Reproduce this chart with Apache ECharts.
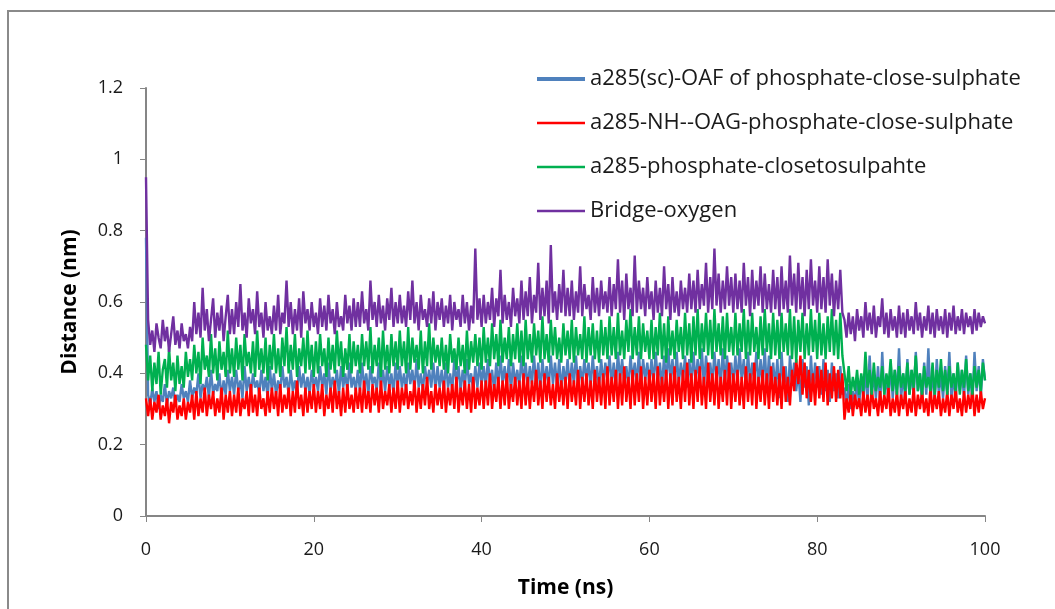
<!DOCTYPE html>
<html>
<head>
<meta charset="utf-8">
<script src="https://cdn.jsdelivr.net/npm/echarts@6/dist/echarts.min.js"></script>
<style>
html,body{margin:0;padding:0;background:#fff;}
#chart{width:1055px;height:609px;}
</style>
</head>
<body>
<div id="chart"></div>
<script>
// Sampling step of the series (ns); one value per step from 0 to 100 ns
const TIME_STEP_NS = 0.25;

const seriesNames = [
  'a285(sc)-OAF of phosphate-close-sulphate',
  'a285-NH--OAG-phosphate-close-sulphate',
  'a285-phosphate-closetosulpahte',
  'Bridge-oxygen'
];

const xTicks = [0, 20, 40, 60, 80, 100];
const yTicks = [0, 0.2, 0.4, 0.6, 0.8, 1, 1.2];

const blueOAF = [0.78,
0.34,0.31,0.36,0.32,0.35,0.30,0.34,0.32,0.37,0.31,0.35,0.33,0.36,0.31,0.34,0.32,0.37,0.33,0.35,0.32,
0.38,0.33,0.36,0.34,0.40,0.33,0.37,0.35,0.39,0.33,0.41,0.34,0.37,0.35,0.40,0.33,0.38,0.34,0.41,0.35,
0.39,0.34,0.41,0.35,0.38,0.33,0.42,0.35,0.39,0.34,0.40,0.36,0.38,0.34,0.41,0.35,0.39,0.33,0.42,0.35,
0.40,0.34,0.38,0.35,0.42,0.36,0.39,0.34,0.41,0.35,0.38,0.34,0.42,0.36,0.40,0.35,0.39,0.34,0.41,0.36,
0.39,0.35,0.42,0.36,0.40,0.34,0.43,0.35,0.39,0.36,0.41,0.34,0.42,0.36,0.40,0.35,0.43,0.36,0.39,0.35,
0.41,0.35,0.43,0.36,0.40,0.34,0.42,0.37,0.39,0.35,0.43,0.36,0.41,0.35,0.42,0.36,0.40,0.34,0.43,0.36,
0.42,0.36,0.40,0.35,0.43,0.37,0.41,0.35,0.44,0.36,0.40,0.35,0.42,0.37,0.41,0.36,0.43,0.35,0.42,0.36,
0.41,0.35,0.43,0.36,0.40,0.35,0.44,0.37,0.42,0.35,0.41,0.36,0.44,0.37,0.40,0.35,0.42,0.36,0.43,0.37,
0.42,0.36,0.44,0.37,0.41,0.35,0.43,0.36,0.45,0.37,0.42,0.36,0.44,0.35,0.43,0.37,0.41,0.36,0.45,0.37,
0.43,0.36,0.42,0.37,0.45,0.36,0.43,0.35,0.44,0.37,0.42,0.36,0.45,0.37,0.43,0.36,0.44,0.35,0.42,0.37,
0.44,0.36,0.43,0.37,0.45,0.36,0.42,0.37,0.44,0.38,0.43,0.36,0.45,0.37,0.42,0.36,0.44,0.37,0.43,0.38,
0.45,0.37,0.43,0.36,0.46,0.38,0.44,0.37,0.42,0.36,0.45,0.38,0.43,0.37,0.46,0.36,0.44,0.38,0.43,0.37,
0.44,0.37,0.46,0.38,0.43,0.36,0.45,0.37,0.47,0.38,0.44,0.36,0.46,0.37,0.43,0.38,0.45,0.36,0.44,0.37,
0.46,0.37,0.44,0.38,0.47,0.36,0.45,0.38,0.43,0.37,0.46,0.38,0.44,0.36,0.47,0.37,0.45,0.38,0.43,0.37,
0.45,0.37,0.47,0.38,0.44,0.36,0.46,0.37,0.43,0.38,0.46,0.36,0.44,0.37,0.47,0.35,0.45,0.37,0.43,0.36,
0.44,0.33,0.46,0.36,0.42,0.32,0.45,0.37,0.43,0.35,0.41,0.32,0.44,0.36,0.42,0.31,0.45,0.35,0.43,0.36,
0.42,0.34,0.44,0.35,0.41,0.32,0.43,0.35,0.40,0.33,0.42,0.34,0.36,0.31,0.37,0.30,0.35,0.32,0.38,0.31,
0.39,0.33,0.41,0.32,0.45,0.34,0.40,0.33,0.42,0.31,0.46,0.34,0.39,0.32,0.43,0.33,0.41,0.34,0.47,0.33,
0.40,0.32,0.44,0.34,0.41,0.33,0.46,0.35,0.40,0.32,0.43,0.34,0.47,0.33,0.41,0.32,0.44,0.34,0.40,0.33,
0.42,0.34,0.46,0.33,0.40,0.32,0.43,0.35,0.41,0.33,0.45,0.34,0.40,0.32,0.46,0.35,0.42,0.33,0.44,0.38];

const redNH = [0.33,
0.28,0.33,0.27,0.32,0.29,0.34,0.27,0.31,0.28,0.33,0.26,0.32,0.29,0.34,0.27,0.31,0.28,0.33,0.27,0.32,
0.29,0.34,0.27,0.35,0.28,0.33,0.29,0.36,0.28,0.34,0.30,0.35,0.28,0.33,0.29,0.36,0.27,0.34,0.29,0.35,
0.28,0.34,0.29,0.36,0.28,0.33,0.30,0.35,0.28,0.37,0.29,0.34,0.28,0.36,0.30,0.33,0.28,0.35,0.29,0.36,
0.30,0.35,0.28,0.37,0.29,0.34,0.30,0.36,0.28,0.35,0.29,0.38,0.30,0.34,0.28,0.36,0.29,0.35,0.30,0.37,
0.29,0.35,0.30,0.37,0.28,0.34,0.30,0.36,0.29,0.38,0.30,0.35,0.28,0.36,0.29,0.37,0.30,0.34,0.29,0.36,
0.30,0.36,0.29,0.38,0.30,0.35,0.29,0.37,0.31,0.36,0.29,0.38,0.30,0.35,0.31,0.37,0.29,0.36,0.30,0.38,
0.29,0.36,0.31,0.37,0.30,0.35,0.31,0.38,0.29,0.36,0.30,0.37,0.31,0.39,0.30,0.35,0.29,0.37,0.31,0.36,
0.30,0.38,0.29,0.36,0.31,0.37,0.30,0.39,0.29,0.36,0.31,0.38,0.30,0.37,0.29,0.39,0.30,0.36,0.31,0.38,
0.30,0.38,0.31,0.40,0.30,0.37,0.32,0.39,0.30,0.38,0.31,0.40,0.30,0.37,0.32,0.39,0.31,0.38,0.30,0.40,
0.31,0.39,0.30,0.38,0.32,0.41,0.31,0.38,0.30,0.40,0.32,0.39,0.31,0.37,0.30,0.40,0.32,0.38,0.31,0.39,
0.30,0.40,0.32,0.38,0.31,0.41,0.30,0.39,0.32,0.40,0.31,0.38,0.30,0.41,0.32,0.39,0.31,0.40,0.30,0.42,
0.31,0.39,0.32,0.41,0.30,0.40,0.31,0.42,0.32,0.39,0.30,0.41,0.31,0.40,0.32,0.42,0.30,0.39,0.31,0.41,
0.32,0.40,0.30,0.42,0.31,0.39,0.32,0.41,0.30,0.40,0.31,0.42,0.32,0.39,0.30,0.41,0.32,0.43,0.31,0.40,
0.30,0.41,0.32,0.42,0.31,0.39,0.30,0.43,0.32,0.40,0.31,0.42,0.30,0.39,0.32,0.41,0.31,0.43,0.30,0.40,
0.32,0.41,0.31,0.39,0.30,0.42,0.32,0.40,0.31,0.43,0.30,0.39,0.32,0.41,0.31,0.40,0.30,0.42,0.32,0.39,
0.31,0.40,0.30,0.42,0.32,0.39,0.31,0.41,0.35,0.44,0.37,0.45,0.34,0.43,0.33,0.41,0.32,0.40,0.31,0.42,
0.33,0.41,0.32,0.43,0.31,0.40,0.33,0.42,0.32,0.41,0.33,0.40,0.27,0.33,0.29,0.35,0.28,0.34,0.30,0.33,
0.28,0.35,0.29,0.34,0.28,0.36,0.30,0.33,0.28,0.35,0.29,0.34,0.30,0.36,0.28,0.33,0.29,0.35,0.28,0.34,
0.30,0.35,0.28,0.33,0.29,0.36,0.28,0.34,0.30,0.35,0.29,0.33,0.28,0.36,0.29,0.34,0.30,0.35,0.28,0.33,
0.29,0.35,0.28,0.34,0.30,0.36,0.29,0.33,0.28,0.35,0.29,0.34,0.30,0.36,0.28,0.34,0.29,0.35,0.30,0.33];

const greenClose = [0.48,
0.38,0.45,0.35,0.43,0.37,0.46,0.34,0.41,0.44,0.36,0.47,0.38,0.43,0.35,0.45,0.37,0.42,0.36,0.46,0.39,
0.44,0.38,0.48,0.40,0.46,0.37,0.50,0.41,0.45,0.39,0.51,0.40,0.47,0.38,0.49,0.41,0.46,0.39,0.52,0.40,
0.47,0.39,0.50,0.41,0.48,0.38,0.51,0.42,0.46,0.40,0.49,0.39,0.52,0.41,0.47,0.40,0.50,0.38,0.48,0.41,
0.51,0.40,0.47,0.39,0.50,0.42,0.53,0.40,0.48,0.41,0.51,0.39,0.47,0.42,0.50,0.40,0.52,0.41,0.48,0.39,
0.49,0.40,0.51,0.42,0.47,0.39,0.50,0.41,0.48,0.40,0.52,0.42,0.49,0.39,0.47,0.41,0.51,0.40,0.49,0.42,
0.48,0.40,0.51,0.42,0.49,0.41,0.53,0.40,0.48,0.42,0.50,0.39,0.52,0.41,0.48,0.40,0.51,0.42,0.49,0.41,
0.52,0.42,0.49,0.40,0.53,0.41,0.50,0.43,0.48,0.41,0.52,0.40,0.49,0.42,0.54,0.41,0.50,0.43,0.48,0.42,
0.50,0.41,0.48,0.40,0.51,0.43,0.47,0.41,0.50,0.42,0.48,0.40,0.52,0.41,0.49,0.43,0.51,0.42,0.50,0.41,
0.53,0.43,0.50,0.42,0.54,0.44,0.51,0.42,0.55,0.43,0.50,0.44,0.53,0.42,0.51,0.44,0.54,0.43,0.52,0.42,
0.55,0.44,0.51,0.43,0.54,0.45,0.52,0.43,0.56,0.44,0.51,0.43,0.55,0.45,0.53,0.44,0.50,0.43,0.54,0.45,
0.52,0.44,0.55,0.43,0.53,0.45,0.51,0.44,0.56,0.43,0.53,0.45,0.54,0.44,0.52,0.43,0.55,0.45,0.53,0.44,
0.56,0.45,0.53,0.44,0.57,0.45,0.52,0.44,0.55,0.46,0.58,0.44,0.53,0.45,0.56,0.44,0.54,0.46,0.52,0.44,
0.55,0.44,0.53,0.45,0.57,0.44,0.54,0.43,0.56,0.45,0.52,0.44,0.55,0.46,0.53,0.44,0.57,0.45,0.54,0.43,
0.56,0.45,0.58,0.44,0.54,0.46,0.57,0.45,0.55,0.44,0.58,0.46,0.54,0.45,0.56,0.44,0.57,0.46,0.53,0.45,
0.57,0.45,0.54,0.46,0.58,0.44,0.55,0.45,0.57,0.46,0.53,0.44,0.56,0.45,0.58,0.46,0.54,0.44,0.57,0.45,
0.55,0.44,0.57,0.46,0.54,0.45,0.58,0.44,0.56,0.43,0.55,0.46,0.57,0.44,0.54,0.45,0.58,0.46,0.55,0.44,
0.57,0.45,0.54,0.44,0.56,0.46,0.58,0.45,0.55,0.44,0.57,0.45,0.40,0.35,0.42,0.34,0.39,0.35,0.41,0.34,
0.40,0.35,0.46,0.36,0.41,0.34,0.43,0.35,0.39,0.36,0.42,0.34,0.40,0.36,0.44,0.35,0.41,0.34,0.42,0.36,
0.40,0.35,0.43,0.34,0.41,0.36,0.45,0.35,0.40,0.34,0.42,0.36,0.39,0.35,0.43,0.34,0.41,0.36,0.44,0.35,
0.41,0.34,0.42,0.36,0.40,0.35,0.43,0.34,0.41,0.36,0.44,0.35,0.40,0.34,0.42,0.36,0.41,0.35,0.43,0.38];

const purpleBridge = [0.95,
0.55,0.48,0.52,0.46,0.54,0.50,0.47,0.55,0.49,0.53,0.46,0.51,0.56,0.48,0.52,0.47,0.54,0.49,0.51,0.47,
0.53,0.49,0.60,0.51,0.57,0.50,0.64,0.52,0.58,0.49,0.55,0.61,0.50,0.57,0.52,0.59,0.49,0.56,0.62,0.51,
0.58,0.51,0.60,0.53,0.65,0.52,0.57,0.50,0.61,0.54,0.58,0.51,0.63,0.53,0.57,0.50,0.60,0.52,0.56,0.51,
0.59,0.52,0.62,0.51,0.57,0.54,0.66,0.53,0.60,0.51,0.58,0.52,0.61,0.50,0.63,0.54,0.58,0.52,0.60,0.53,
0.57,0.51,0.61,0.53,0.59,0.52,0.62,0.54,0.58,0.51,0.60,0.53,0.56,0.52,0.62,0.54,0.59,0.52,0.61,0.53,
0.60,0.53,0.63,0.54,0.58,0.52,0.66,0.55,0.60,0.53,0.62,0.54,0.59,0.52,0.61,0.55,0.64,0.53,0.60,0.54,
0.62,0.54,0.59,0.53,0.63,0.55,0.66,0.54,0.60,0.52,0.62,0.55,0.58,0.53,0.61,0.54,0.63,0.52,0.60,0.55,
0.61,0.53,0.59,0.54,0.62,0.52,0.60,0.55,0.58,0.53,0.62,0.54,0.60,0.52,0.59,0.54,0.75,0.55,0.61,0.53,
0.62,0.54,0.60,0.55,0.64,0.53,0.61,0.56,0.69,0.54,0.62,0.55,0.60,0.53,0.64,0.56,0.61,0.54,0.66,0.55,
0.63,0.56,0.67,0.54,0.62,0.57,0.71,0.55,0.64,0.56,0.66,0.54,0.76,0.57,0.63,0.55,0.65,0.57,0.69,0.56,
0.64,0.56,0.66,0.55,0.63,0.57,0.70,0.56,0.65,0.58,0.62,0.55,0.67,0.57,0.64,0.56,0.66,0.58,0.63,0.57,
0.67,0.56,0.65,0.58,0.72,0.57,0.66,0.55,0.68,0.58,0.64,0.56,0.73,0.57,0.66,0.58,0.64,0.56,0.67,0.58,
0.63,0.55,0.66,0.57,0.64,0.56,0.70,0.58,0.65,0.55,0.67,0.57,0.63,0.56,0.66,0.58,0.64,0.57,0.68,0.58,
0.66,0.57,0.69,0.58,0.65,0.59,0.71,0.57,0.67,0.58,0.75,0.59,0.68,0.57,0.66,0.58,0.70,0.59,0.67,0.57,
0.68,0.58,0.66,0.57,0.71,0.59,0.67,0.56,0.69,0.58,0.66,0.59,0.70,0.57,0.68,0.58,0.65,0.57,0.69,0.58,
0.67,0.56,0.70,0.58,0.66,0.57,0.73,0.59,0.68,0.57,0.71,0.58,0.67,0.56,0.69,0.58,0.72,0.59,0.66,0.57,
0.70,0.58,0.67,0.57,0.72,0.59,0.68,0.56,0.66,0.58,0.69,0.57,0.55,0.50,0.57,0.51,0.56,0.49,0.58,0.52,
0.56,0.50,0.60,0.52,0.57,0.51,0.59,0.50,0.56,0.53,0.61,0.51,0.57,0.50,0.58,0.52,0.56,0.50,0.59,0.51,
0.57,0.50,0.58,0.52,0.56,0.51,0.60,0.52,0.57,0.50,0.56,0.52,0.59,0.51,0.57,0.50,0.58,0.52,0.56,0.51,
0.58,0.50,0.57,0.52,0.59,0.51,0.56,0.52,0.58,0.51,0.57,0.53,0.56,0.51,0.58,0.52,0.57,0.53,0.56,0.54];

const seriesColors = ['#4F81BD', '#FF0000', '#00B050', '#7030A0'];
const legendLineWidths = [4, 2.5, 2.5, 2.5];
const seriesValues = [blueOAF, redNH, greenClose, purpleBridge];

function toPairs(values) {
  return values.map(function (v, i) { return [i * TIME_STEP_NS, v]; });
}

const chart = echarts.init(document.getElementById('chart'), null, {renderer: 'canvas'});
const FONT = '"Open Sans", "Liberation Sans", sans-serif';
const axisGray = '#868686';

const option = {
  backgroundColor: '#ffffff',
  animation: false,
  graphic: [{
    type: 'rect',
    shape: {x: 8, y: 11, width: 1070, height: 620},
    style: {fill: 'none', stroke: '#8a8a8a', lineWidth: 2},
    silent: true
  }],
  grid: {left: 146, right: 70, top: 88, bottom: 93, containLabel: false},
  legend: {
    orient: 'vertical',
    left: 535,
    top: 68,
    padding: 0,
    itemWidth: 48,
    itemHeight: 22,
    itemGap: 22,
    textStyle: {fontFamily: FONT, fontSize: 22, color: '#1a1a1a', padding: [0, 0, 0, 0]},
    data: seriesNames.map(function (n, i) {
      return {name: n, lineStyle: {color: seriesColors[i], width: legendLineWidths[i]}, itemStyle: {opacity: 0}};
    })
  },
  xAxis: {
    type: 'value',
    min: xTicks[0],
    max: xTicks[xTicks.length - 1],
    interval: 20,
    name: 'Time (ns)',
    nameLocation: 'middle',
    nameGap: 62,
    nameTextStyle: {fontFamily: FONT, fontSize: 21, fontWeight: 'bold', color: '#000'},
    axisLine: {show: true, lineStyle: {color: axisGray, width: 2}},
    axisTick: {show: true, length: 6, lineStyle: {color: axisGray, width: 1}},
    axisLabel: {fontFamily: FONT, fontSize: 18, color: '#1a1a1a', margin: 25},
    splitLine: {show: false}
  },
  yAxis: {
    type: 'value',
    min: yTicks[0],
    max: yTicks[yTicks.length - 1],
    interval: 0.2,
    name: 'Distance (nm)',
    nameLocation: 'middle',
    nameGap: 65,
    nameTextStyle: {fontFamily: FONT, fontSize: 21, fontWeight: 'bold', color: '#000'},
    axisLine: {show: true, lineStyle: {color: axisGray, width: 2}},
    axisTick: {show: true, length: 6, lineStyle: {color: axisGray, width: 1}},
    axisLabel: {fontFamily: FONT, fontSize: 18, color: '#1a1a1a', margin: 23},
    splitLine: {show: false}
  },
  series: seriesNames.map(function (n, i) {
    return {
      name: n,
      type: 'line',
      data: toPairs(seriesValues[i]),
      showSymbol: false,
      symbol: 'none',
      lineStyle: {color: seriesColors[i], width: 2.4},
      itemStyle: {color: seriesColors[i]},
      z: 2 + i
    };
  })
};
chart.setOption(option);
</script>
</body>
</html>
